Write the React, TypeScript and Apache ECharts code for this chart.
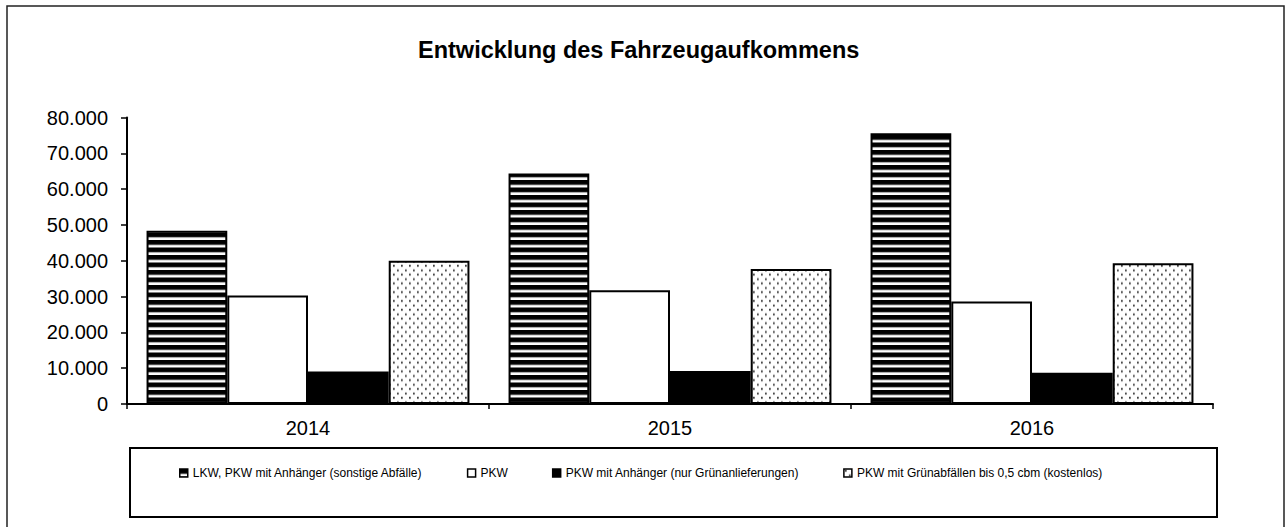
import React, { useEffect, useRef } from "react";
import * as echarts from "echarts";

const categories = ["2014", "2015", "2016"];
const seriesNames = [
  "LKW, PKW mit Anhänger (sonstige Abfälle)",
  "PKW",
  "PKW mit Anhänger (nur Grünanlieferungen)",
  "PKW mit Grünabfällen bis 0,5 cbm (kostenlos)",
];
const lkwValues = [48400, 64400, 75600];
const pkwValues = [30300, 31800, 28600];
const gruenValues = [9100, 9200, 8700];
const kostenlosValues = [40000, 37700, 39300];
const yTicks = { min: 0, max: 80000, interval: 10000 };

const FONT = "'Liberation Sans', Arial, sans-serif";

function fmt(v: number): string {
  const s = String(Math.round(v));
  return s.replace(/\B(?=(\d{3})+(?!\d))/g, ".");
}

function stripePattern() {
  const k = 4;
  const c = document.createElement("canvas");
  c.width = 8 * k;
  c.height = 30;
  const ctx = c.getContext("2d")!;
  ctx.fillStyle = "#000";
  ctx.fillRect(0, 0, c.width, c.height);
  ctx.fillStyle = "#fff";
  ctx.fillRect(0, 19, c.width, 11);
  return { image: c, repeat: "repeat", imageWidth: 8, imageHeight: 7.5 } as any;
}

function dotPattern() {
  const k = 4;
  const c = document.createElement("canvas");
  c.width = 8 * k;
  c.height = Math.round(8.8 * k);
  const ctx = c.getContext("2d")!;
  ctx.fillStyle = "#fff";
  ctx.fillRect(0, 0, c.width, c.height);
  ctx.fillStyle = "#333";
  ctx.fillRect(1 * k, 1 * k, 1.75 * k, 1.75 * k);
  ctx.fillRect(5 * k, 5.4 * k, 1.75 * k, 1.75 * k);
  return { image: c, repeat: "repeat", imageWidth: 8, imageHeight: 8.8 } as any;
}

export default function App() {
  const ref = useRef<HTMLDivElement>(null);
  useEffect(() => {
    if (!ref.current) return;
    const chart = echarts.init(ref.current, undefined, { renderer: "svg" });
    const border = { borderColor: "#000", borderWidth: 2 };
    const mk = (name: string, data: number[], color: any) => ({
      name,
      type: "bar",
      data,
      barGap: "0%",
      barCategoryGap: "10.8%",
      itemStyle: { color, ...border },
      emphasis: { disabled: true },
    });
    chart.setOption({
      animation: false,
      backgroundColor: "#fff",
      textStyle: { fontFamily: FONT, color: "#000" },
      title: {
        text: "Entwicklung des Fahrzeugaufkommens",
        left: 418,
        top: 38,
        padding: 0,
        textStyle: { fontFamily: FONT, fontSize: 23.5, fontWeight: "bold", color: "#000" },
      },
      graphic: [
        {
          type: "rect",
          shape: { x: 7, y: 6, width: 1277, height: 540 },
          style: { fill: "none", stroke: "#222", lineWidth: 1.5 },
          z: 0,
        },
        {
          type: "rect",
          shape: { x: 130, y: 448, width: 1087, height: 69 },
          style: { fill: "none", stroke: "#000", lineWidth: 2 },
          z: 0,
        },
      ],
      legend: {
        data: seriesNames,
        left: 179,
        top: 467,
        padding: 0,
        itemWidth: 8,
        itemHeight: 8,
        itemGap: 44,
        icon: "rect",
        itemStyle: { borderColor: "#000", borderWidth: 1.5 },
        textStyle: { fontFamily: FONT, fontSize: 12, color: "#000" },
        selectedMode: false,
      },
      grid: { left: 127, top: 117.6, width: 1086, height: 286.4 },
      xAxis: {
        type: "category",
        data: categories,
        axisLine: { lineStyle: { color: "#000", width: 2 } },
        axisTick: { show: true, length: 5, lineStyle: { color: "#000", width: 1.5 } },
        axisLabel: { fontFamily: FONT, fontSize: 20, color: "#000", margin: 14 },
        splitLine: { show: false },
      },
      yAxis: {
        type: "value",
        min: yTicks.min,
        max: yTicks.max,
        interval: yTicks.interval,
        axisLine: { show: true, lineStyle: { color: "#000", width: 2 } },
        axisTick: { show: true, length: 6, lineStyle: { color: "#000", width: 1.5 } },
        axisLabel: {
          fontFamily: FONT,
          fontSize: 20,
          color: "#000",
          margin: 19,
          formatter: (v: number) => fmt(v),
        },
        splitLine: { show: false },
      },
      series: [
        mk(seriesNames[0], lkwValues, stripePattern()),
        mk(seriesNames[1], pkwValues, "#fff"),
        mk(seriesNames[2], gruenValues, "#000"),
        mk(seriesNames[3], kostenlosValues, dotPattern()),
      ],
    });
    return () => chart.dispose();
  }, []);
  return (
    <div
      ref={ref}
      style={{ position: "fixed", left: 0, top: 0, width: 1286, height: 527, background: "#fff" }}
    />
  );
}
